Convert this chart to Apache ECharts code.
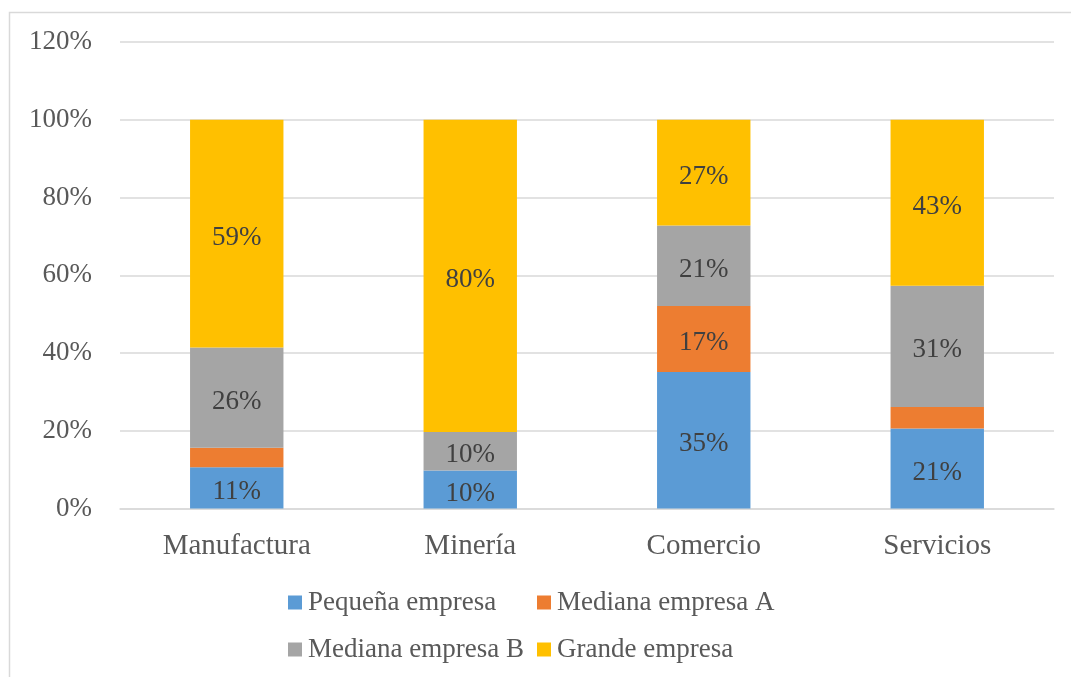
<!DOCTYPE html>
<html>
<head>
<meta charset="utf-8">
<script src="https://cdn.jsdelivr.net/npm/echarts@6/dist/echarts.min.js"></script>
<style>
  html, body { margin: 0; padding: 0; background: #ffffff; }
  #chart { width: 1071px; height: 677px; }
</style>
</head>
<body>
<div id="chart"></div>
<script>
// Sector categories
const categories = ['Manufactura', 'Minería', 'Comercio', 'Servicios'];

// Share of each company size per sector (%)
const pequenaEmpresa  = [10.6, 9.8, 35.1, 20.6];
const medianaEmpresaA = [5.0, 0, 17.0, 5.5];
const medianaEmpresaB = [25.8, 9.9, 20.7, 31.2];
const grandeEmpresa   = [58.6, 80.3, 27.2, 42.7];

const seriesNames = ['Pequeña empresa', 'Mediana empresa A', 'Mediana empresa B', 'Grande empresa'];
const seriesColors = ['#5B9BD5', '#ED7D31', '#A5A5A5', '#FFC000'];

// Y axis tick range
const yMin = 0, yMax = 120, yStep = 20;

const FONT = '"Liberation Serif", "Times New Roman", serif';

function makeSeries(name, data, color) {
  return {
    name: name,
    type: 'bar',
    stack: 'total',
    barWidth: '40%',
    data: data,
    itemStyle: { color: color },
    label: {
      show: true,
      position: 'inside',
      offset: [0, 4],
      color: '#404040',
      fontFamily: FONT,
      fontSize: 27,
      // thin slices are left unlabelled
      formatter: p => (p.value < 8 ? '' : Math.round(p.value) + '%')
    },
    emphasis: { disabled: true }
  };
}

const chart = echarts.init(document.getElementById('chart'), null, { renderer: 'canvas' });

chart.setOption({
  animation: false,
  backgroundColor: '#ffffff',
  graphic: [{
    type: 'rect',
    shape: { x: 9.5, y: 12.5, width: 1100, height: 700 },
    style: { fill: 'none', stroke: '#d9d9d9', lineWidth: 1.5 },
    silent: true,
    z: -1
  }],
  grid: { left: 120, right: 17, top: 42, bottom: 168.5 },
  xAxis: {
    type: 'category',
    data: categories,
    axisLine: { lineStyle: { color: '#d9d9d9', width: 1.5 } },
    axisTick: { show: false },
    axisLabel: { color: '#595959', fontFamily: FONT, fontSize: 29, margin: 23 }
  },
  yAxis: {
    type: 'value',
    min: yMin,
    max: yMax,
    interval: yStep,
    axisLine: { show: false },
    axisTick: { show: false },
    splitLine: { lineStyle: { color: '#d9d9d9', width: 1.5 } },
    axisLabel: {
      color: '#595959', fontFamily: FONT, fontSize: 27, margin: 28,
      lineHeight: 27,
      verticalAlign: 'middle',
      padding: [8, 0, 0, 0],
      formatter: '{value}%'
    }
  },
  legend: [
    {
      orient: 'vertical',
      left: 288, top: 589,
      padding: 0,
      itemWidth: 14, itemHeight: 14, itemGap: 20,
      icon: 'rect',
      data: [seriesNames[0], seriesNames[2]],
      textStyle: { color: '#595959', fontFamily: FONT, fontSize: 27, padding: [0, 0, 0, 1] }
    },
    {
      orient: 'vertical',
      left: 537, top: 589,
      padding: 0,
      itemWidth: 14, itemHeight: 14, itemGap: 20,
      icon: 'rect',
      data: [seriesNames[1], seriesNames[3]],
      textStyle: { color: '#595959', fontFamily: FONT, fontSize: 27, padding: [0, 0, 0, 1] }
    }
  ],
  series: [
    makeSeries(seriesNames[0], pequenaEmpresa, seriesColors[0]),
    makeSeries(seriesNames[1], medianaEmpresaA, seriesColors[1]),
    makeSeries(seriesNames[2], medianaEmpresaB, seriesColors[2]),
    makeSeries(seriesNames[3], grandeEmpresa, seriesColors[3])
  ]
});
</script>
</body>
</html>
